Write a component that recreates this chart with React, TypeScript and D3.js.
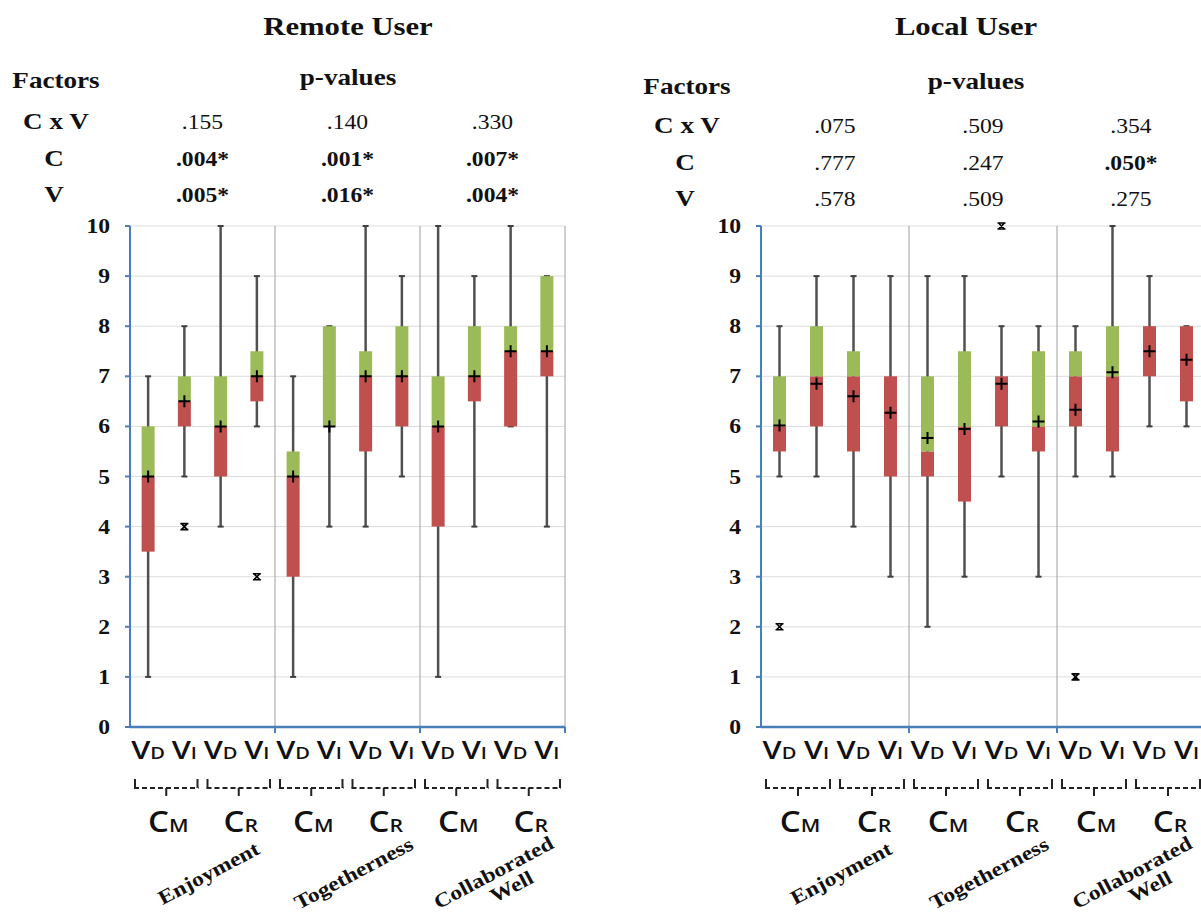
import React from 'react'
import * as d3 from 'd3'

// categories
const groups = ['Enjoyment', 'Togetherness', 'Collaborated Well']
const conditions = ['M', 'R']
const views = ['D', 'I']
const factors = ['C x V', 'C', 'V']
const yTicks = [0, 1, 2, 3, 4, 5, 6, 7, 8, 9, 10]

// Remote user: one value per box, order = group > condition > view
const remoteP = [
  ['.155', '.140', '.330'],
  ['.004*', '.001*', '.007*'],
  ['.005*', '.016*', '.004*'],
]
const remoteLow = [1, 5, 4, 6, 1, 4, 4, 5, 1, 4, 6, 4]
const remoteQ1 = [3.5, 6, 5, 6.5, 3, 6, 5.5, 6, 4, 6.5, 6, 7]
const remoteMed = [5, 6.5, 6, 7, 5, 6, 7, 7, 6, 7, 7.5, 7.5]
const remoteQ3 = [6, 7, 7, 7.5, 5.5, 8, 7.5, 8, 7, 8, 8, 9]
const remoteHigh = [7, 8, 10, 9, 7, 8, 10, 9, 10, 9, 10, 9]
const remoteMean = [5, 6.5, 6, 7, 5, 6, 7, 7, 6, 7, 7.5, 7.5]
const remoteOut = [[], [4], [], [3], [], [], [], [], [], [], [], []]

// Local user
const localP = [
  ['.075', '.509', '.354'],
  ['.777', '.247', '.050*'],
  ['.578', '.509', '.275'],
]
const localLow = [5, 5, 4, 3, 2, 3, 5, 3, 5, 5, 6, 6]
const localQ1 = [5.5, 6, 5.5, 5, 5, 4.5, 6, 5.5, 6, 5.5, 7, 6.5]
const localMed = [6, 7, 7, 7, 5.5, 6, 7, 6, 7, 7, 8, 8]
const localQ3 = [7, 8, 7.5, 7, 7, 7.5, 7, 7.5, 7.5, 8, 8, 8]
const localHigh = [8, 9, 9, 9, 9, 9, 8, 8, 8, 10, 9, 8]
const localMean = [6.02, 6.85, 6.6, 6.27, 5.77, 5.95, 6.85, 6.1, 6.33, 7.08, 7.5, 7.33]
const localOut = [[2], [], [], [], [], [], [10], [], [1], [], [], []]

const SERIF = "'Liberation Serif', 'Times New Roman', serif"
const SANS = "'Open Sans', 'Liberation Sans', sans-serif"
const SX = 1.18
const GREEN = '#9bbb59'
const RED = '#c0504d'
const AXIS = '#4a7ebb'

const T = ({ x, y, size, bold = true, anchor = 'middle', children }: any) => (
  <text
    transform={`translate(${x},${y}) scale(${SX},1)`}
    fontFamily={SERIF}
    fontSize={size}
    fontWeight={bold ? 'bold' : 'normal'}
    textAnchor={anchor}
    fill="#111"
  >
    {children}
  </text>
)

const Sub = ({ x, y, big, small, s1, s2 }: any) => (
  <text
    transform={`translate(${x},${y}) scale(${SX},1)`}
    fontFamily={SANS}
    fontWeight={600}
    textAnchor="middle"
    fill="#111"
  >
    <tspan fontSize={s1}>{big}</tspan>
    <tspan fontSize={s2}>{small}</tspan>
  </text>
)

const Panel = ({ d }: any) => {
  const y = d3.scaleLinear().domain([0, 10]).range([727, 226])
  const xg = d3.scaleBand().domain(groups).range([d.axisX, d.axisX + d.groupW * 3])
  const keys = conditions.flatMap(c => views.map(v => c + v))
  const xb = d3.scaleBand().domain(keys).range([0, xg.bandwidth()])
  const right = d.axisX + d.groupW * 3
  const bw = 13
  const boxes = groups.flatMap((g, gi) =>
    keys.map((k, ki) => {
      const i = gi * 4 + ki
      return { g, k, i, cx: xg(g)! + xb(k)! + xb.bandwidth() / 2 }
    })
  )
  const dy = d.dy
  const labelX = d.axisX - 74
  return (
    <g>
      <T x={d.titleX} y={35} size={26}>{d.title}</T>
      <T x={labelX} y={88 + dy * 1.5} size={23}>Factors</T>
      <T x={d.pX} y={85 + dy} size={23}>p-values</T>
      {factors.map((f, fi) => (
        <g key={f}>
          <T x={labelX + (fi === 0 ? 0 : -2)} y={129 + fi * 36.5 + dy} size={23}>{f}</T>
          {d.p[fi].map((p: string, gi: number) => (
            <T key={gi} x={xg(groups[gi])! + xg.bandwidth() / 2} y={129 + fi * 36.5 + dy} size={20} bold={p.endsWith('*')}>
              {p}
            </T>
          ))}
        </g>
      ))}

      {/* grid */}
      {yTicks.filter(t => t > 0).map(t => (
        <line key={t} x1={d.axisX} x2={right} y1={y(t)} y2={y(t)} stroke="#dcdcdc" strokeWidth={1} />
      ))}
      {groups.map(g => (
        <line key={g} x1={xg(g)! + xg.bandwidth()} x2={xg(g)! + xg.bandwidth()} y1={y(10)} y2={y(0) + 5} stroke="#a0a0a0" strokeWidth={1} />
      ))}

      {/* boxes */}
      {boxes.map(b => {
        const i = b.i
        return (
          <g key={b.g + b.k}>
            <line x1={b.cx} x2={b.cx} y1={y(d.high[i])} y2={y(d.low[i])} stroke="#505050" strokeWidth={2.5} />
            <line x1={b.cx - 3} x2={b.cx + 3} y1={y(d.high[i])} y2={y(d.high[i])} stroke="#404040" strokeWidth={2} />
            <line x1={b.cx - 3} x2={b.cx + 3} y1={y(d.low[i])} y2={y(d.low[i])} stroke="#404040" strokeWidth={2} />
            <rect x={b.cx - bw / 2} width={bw} y={y(d.med[i])} height={y(d.q1[i]) - y(d.med[i])} fill={RED} />
            <rect x={b.cx - bw / 2} width={bw} y={y(d.q3[i])} height={y(d.med[i]) - y(d.q3[i])} fill={GREEN} />
            <path
              d={`M${b.cx - 6},${y(d.mean[i])}h12M${b.cx},${y(d.mean[i]) - 6}v12`}
              stroke="#000"
              strokeWidth={2}
            />
            {d.out[i].map((o: number) => (
              <path
                key={o}
                d={`M${b.cx - 3},${y(o) - 3}l6,6M${b.cx + 3},${y(o) - 3}l-6,6M${b.cx - 4},${y(o) - 3}h8M${b.cx - 4},${y(o) + 3}h8`}
                stroke="#000"
                strokeWidth={1.6}
              />
            ))}
          </g>
        )
      })}

      {/* axes */}
      <line x1={d.axisX} x2={d.axisX} y1={y(10)} y2={y(0)} stroke={AXIS} strokeWidth={2} />
      <line x1={d.axisX} x2={right} y1={y(0)} y2={y(0)} stroke={AXIS} strokeWidth={2.5} />
      {yTicks.map(t => (
        <g key={t}>
          <line x1={d.axisX - 5} x2={d.axisX} y1={y(t)} y2={y(t)} stroke={AXIS} strokeWidth={2} />
          <T x={d.axisX - 20} y={y(t) + 7} size={20} anchor="end">{t}</T>
        </g>
      ))}
      {groups.map(g => (
        <line key={g} x1={xg(g)! + xg.bandwidth()} x2={xg(g)! + xg.bandwidth()} y1={y(0)} y2={y(0) + 6} stroke={AXIS} strokeWidth={2} />
      ))}

      {/* category labels */}
      {boxes.map(b => (
        <Sub key={b.g + b.k} x={b.cx} y={759} big="V" small={b.k[1]} s1={26} s2={17} />
      ))}
      {groups.flatMap(g =>
        conditions.map((c, ci) => {
          const x0 = xg(g)! + ci * xg.bandwidth() / 2 + 4
          const x1 = x0 + xg.bandwidth() / 2 - 8
          const mid = (x0 + x1) / 2
          return (
            <g key={g + c}>
              <line x1={x0} x2={x1} y1={788} y2={788} stroke="#222" strokeWidth={2.2} strokeDasharray="5,3" />
              <line x1={x0 + 1} x2={x0 + 1} y1={779} y2={788} stroke="#222" strokeWidth={2} />
              <line x1={x1 - 1} x2={x1 - 1} y1={779} y2={788} stroke="#222" strokeWidth={2} />
              <line x1={mid} x2={mid} y1={788} y2={796} stroke="#222" strokeWidth={2} />
              <Sub x={mid + 2} y={832} big="C" small={c} s1={28} s2={18} />
            </g>
          )
        })
      )}
      {groups.map(g => {
        const cx = xg(g)! + xg.bandwidth() / 2 + 6
        const lines = g === 'Collaborated Well' ? ['Collaborated', 'Well'] : [g]
        return (
          <text
            key={g}
            transform={`translate(${cx},${lines.length > 1 ? 882 : 873}) rotate(-28) scale(${SX},1)`}
            fontFamily={SERIF}
            fontSize={20}
            fontWeight="bold"
            textAnchor="middle"
            fill="#111"
          >
            {lines.map((l, li) => (
              <tspan key={l} x={lines.length > 1 ? li * 8 : 0} y={lines.length > 1 ? (li === 0 ? -4 : 17) : 7}>
                {l}
              </tspan>
            ))}
          </text>
        )
      })}
    </g>
  )
}

const remote = {
  title: 'Remote User', p: remoteP, low: remoteLow, q1: remoteQ1, med: remoteMed, q3: remoteQ3,
  high: remoteHigh, mean: remoteMean, out: remoteOut,
  axisX: 130, groupW: 145, titleX: 348, pX: 348, dy: 0,
}
const local = {
  title: 'Local User', p: localP, low: localLow, q1: localQ1, med: localMed, q3: localQ3,
  high: localHigh, mean: localMean, out: localOut,
  axisX: 761, groupW: 148, titleX: 966, pX: 976, dy: 4,
}

export default function App() {
  return (
    <svg width={1201} height={920} style={{ position: 'absolute', left: 0, top: 0, background: '#fff' }}>
      <rect width={1201} height={920} fill="#fff" />
      <Panel d={remote} />
      <Panel d={local} />
    </svg>
  )
}
